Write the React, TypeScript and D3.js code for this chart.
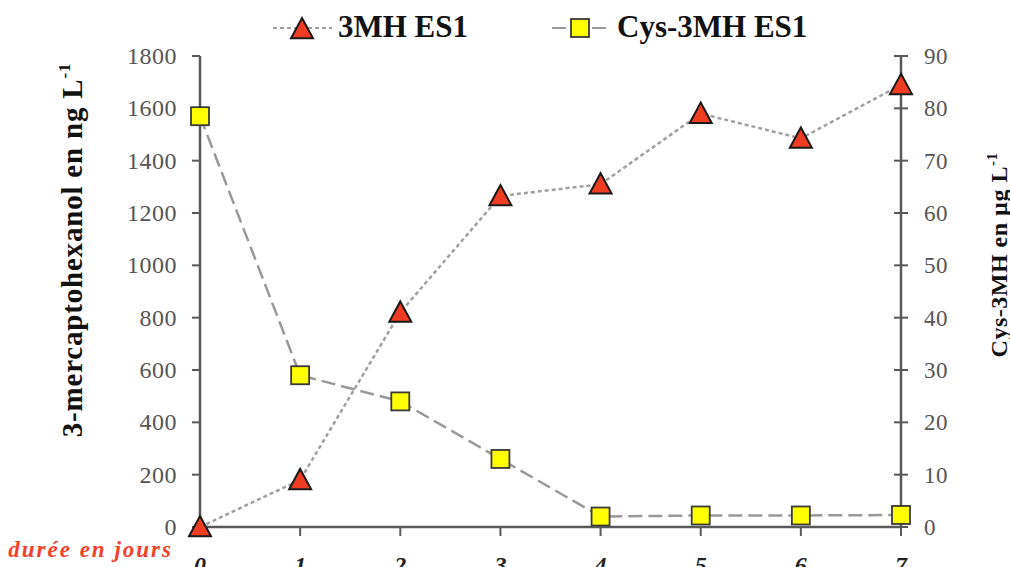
import React from "react";
import * as d3 from "d3";

const days = [0, 1, 2, 3, 4, 5, 6, 7];
const mh3 = [0, 180, 820, 1265, 1310, 1580, 1485, 1690];
const cys3mh = [78.5, 29, 24, 13, 2, 2.2, 2.2, 2.3];
const leftTicks = [0, 200, 400, 600, 800, 1000, 1200, 1400, 1600, 1800];
const rightTicks = [0, 10, 20, 30, 40, 50, 60, 70, 80, 90];

const W = 1010, H = 567;
const x = d3.scaleLinear().domain([0, 7]).range([200, 901]);
const yL = d3.scaleLinear().domain([0, 1800]).range([527, 56]);
const yR = d3.scaleLinear().domain([0, 90]).range([527, 56]);

const serif = '"Liberation Serif", "Times New Roman", Times, "DejaVu Serif", serif';
const axisCol = "#595959";
const F = { fontFamily: serif };

function Tri({ cx, cy }: { cx: number; cy: number }) {
  const s = 11;
  return (
    <path
      d={`M${cx},${cy - s}L${cx + s},${cy + s * 0.85}L${cx - s},${cy + s * 0.85}Z`}
      fill="#f03c23"
      stroke="#1a1a1a"
      strokeWidth={2}
    />
  );
}
function Sq({ cx, cy }: { cx: number; cy: number }) {
  const s = 9;
  return <rect x={cx - s} y={cy - s} width={2 * s} height={2 * s} fill="#ffff00" stroke="#3a3a3a" strokeWidth={1.8} />;
}

export default function App() {
  const l1 = d3.line<number>().x((_, i) => x(days[i])).y((d) => yL(d))(mh3) || "";
  const l2 = d3.line<number>().x((_, i) => x(days[i])).y((d) => yR(d))(cys3mh) || "";
  return (
    <svg width={W} height={H} style={{ position: "absolute", left: 0, top: 0, background: "#fff" }}>
      {/* legend */}
      <line x1={273} x2={332} y1={28} y2={28} stroke="#a0a0a0" strokeWidth={2} strokeDasharray="4 3" />
      <Tri cx={302} cy={29} />
      <text x={338} y={37} style={F} fontWeight="bold" fontSize={31} fill="#111">3MH ES1</text>
      <line x1={552} x2={612} y1={28} y2={28} stroke="#999" strokeWidth={2} strokeDasharray="14 6" />
      <Sq cx={580} cy={28} />
      <text x={617} y={37} style={F} fontWeight="bold" fontSize={31} fill="#111">Cys-3MH ES1</text>

      {/* axes */}
      <line x1={200} x2={200} y1={56} y2={527} stroke={axisCol} strokeWidth={2.5} />
      <line x1={901} x2={901} y1={56} y2={527} stroke={axisCol} strokeWidth={2.5} />
      <line x1={200} x2={901} y1={527} y2={527} stroke={axisCol} strokeWidth={2.5} />
      {leftTicks.map((t) => (
        <g key={"l" + t}>
          <line x1={192} x2={200} y1={yL(t)} y2={yL(t)} stroke={axisCol} strokeWidth={2} />
          <text x={177} y={yL(t) + 8} textAnchor="end" style={F} fontSize={24} letterSpacing={0.5} fill="#555">{t}</text>
        </g>
      ))}
      {rightTicks.map((t) => (
        <g key={"r" + t}>
          <line x1={894} x2={908} y1={yR(t)} y2={yR(t)} stroke={axisCol} strokeWidth={2} />
          <text x={924} y={yR(t) + 8} textAnchor="start" style={F} fontSize={23} letterSpacing={0.5} fill="#555">{t}</text>
        </g>
      ))}
      {days.map((d) => (
        <g key={"x" + d}>
          <line x1={x(d)} x2={x(d)} y1={527} y2={536} stroke={axisCol} strokeWidth={2} />
          <text x={x(d)} y={573} textAnchor="middle" style={F} fontStyle="italic" fontWeight="bold" fontSize={24} fill="#222">{d}</text>
        </g>
      ))}

      {/* axis titles */}
      <text transform="translate(82,250) rotate(-90)" textAnchor="middle" style={F} fontWeight="bold" fontSize={29} letterSpacing={0.8} fill="#111">
        3-mercaptohexanol en ng L<tspan dy={-12} fontSize={17}>-1</tspan>
      </text>
      <text transform="translate(1007,255) rotate(-90)" textAnchor="middle" style={F} fontWeight="bold" fontSize={24} letterSpacing={0.5} fill="#111">
        Cys-3MH en µg L<tspan dy={-10} fontSize={15}>-1</tspan>
      </text>
      <text x={173} y={557} textAnchor="end" style={F} fontStyle="italic" fontWeight="bold" fontSize={23} letterSpacing={2} fill="#f2402c">durée en jours</text>

      {/* series */}
      <path d={l2} fill="none" stroke="#999" strokeWidth={2.5} strokeDasharray="14 6" />
      <path d={l1} fill="none" stroke="#a0a0a0" strokeWidth={2.5} strokeDasharray="4 3" />
      {cys3mh.map((v, i) => <Sq key={"s" + i} cx={x(days[i])} cy={yR(v)} />)}
      {mh3.map((v, i) => <Tri key={"t" + i} cx={x(days[i])} cy={yL(v)} />)}
    </svg>
  );
}
